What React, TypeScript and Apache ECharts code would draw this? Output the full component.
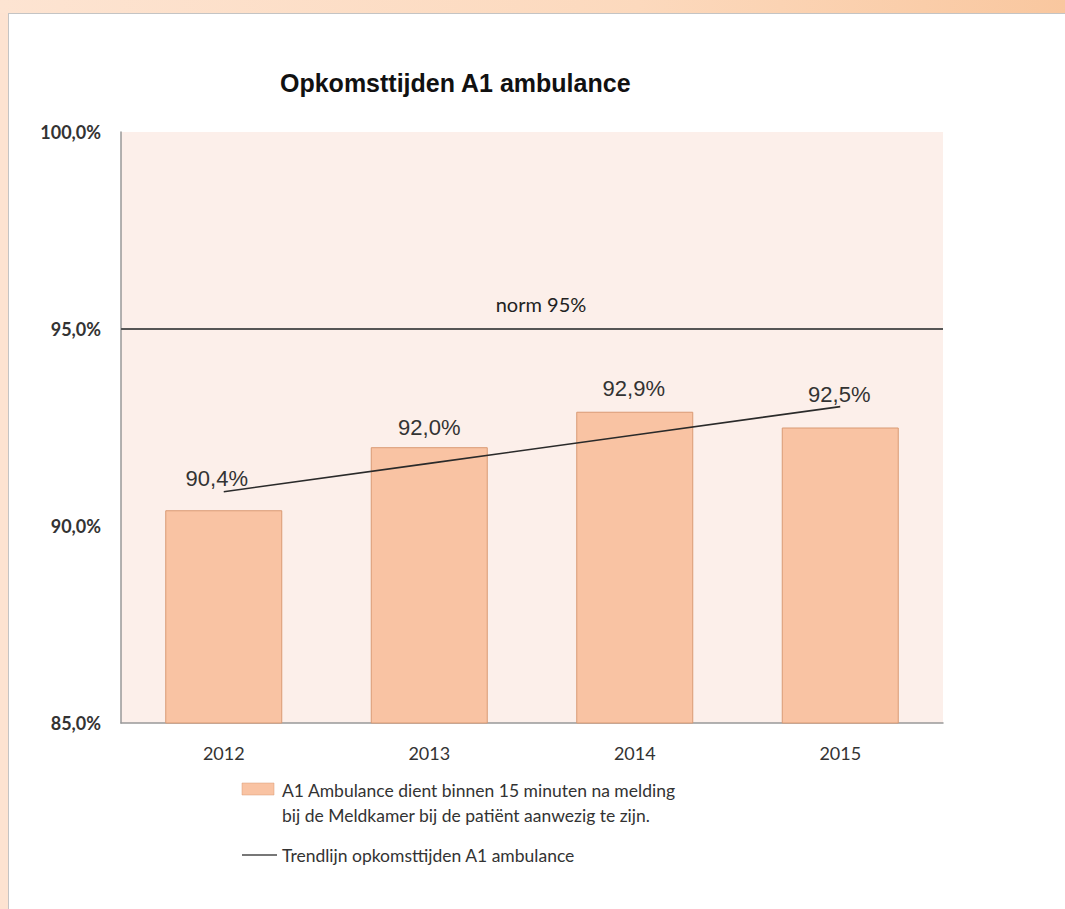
import React, { useEffect, useRef } from "react";
import * as echarts from "echarts";

const categories = ["2012", "2013", "2014", "2015"];
const values = [90.4, 92.0, 92.9, 92.5];
const trendValues = [90.87, 91.59, 92.31, 93.03];
const normValue = 95;
const yTicks = [85, 90, 95, 100];
const labelDistances = [21, 9, 12, 22];
const labelOffsetsX = [-7, 0, -1, -1];

const barName = "A1 Ambulance dient binnen 15 minuten na melding bij de Meldkamer bij de patiënt aanwezig te zijn.";
const barLegendLines = ["A1 Ambulance dient binnen 15 minuten na melding", "bij de Meldkamer bij de patiënt aanwezig te zijn."];
const trendName = "Trendlijn opkomsttijden A1 ambulance";
const titleText = "Opkomsttijden A1 ambulance";
const normLabel = "norm 95%";

const BAR_COLOR = "#f9c3a3";
const BAR_BORDER = "#d99a74";
const TREND_COLOR = "#2a2a2a";

const fmtPct = (v: number) => v.toFixed(1).replace(".", ",") + "%";

export default function App() {
  const ref = useRef<HTMLDivElement>(null);
  useEffect(() => {
    if (!ref.current) return;
    const chart = echarts.init(ref.current, undefined, { renderer: "svg" });
    chart.setOption({
      animation: false,
      backgroundColor: "transparent",
      title: {
        text: titleText,
        left: 280,
        top: 70,
        padding: 0,
        textStyle: { fontFamily: "Liberation Sans", fontSize: 25, fontWeight: "bold", color: "#111" },
      },
      grid: {
        left: 121,
        right: 122,
        top: 132,
        bottom: 186,
        show: true,
        backgroundColor: "#fcefea",
        borderWidth: 0,
      },
      xAxis: {
        type: "category",
        data: categories,
        axisLine: { show: true, lineStyle: { color: "#999", width: 1.5 } },
        axisTick: { show: false },
        axisLabel: { margin: 21, fontFamily: "Lato", fontSize: 18, color: "#333" },
      },
      yAxis: {
        type: "value",
        min: yTicks[0],
        max: yTicks[yTicks.length - 1],
        interval: 5,
        axisLine: { show: true, lineStyle: { color: "#999", width: 1.5 } },
        axisTick: { show: false },
        splitLine: { show: false },
        axisLabel: {
          margin: 20,
          fontFamily: "Lato",
          fontWeight: "bold",
          fontSize: 18,
          color: "#333",
          formatter: (v: number) => fmtPct(v),
        },
      },
      series: [
        {
          name: barName,
          type: "bar",
          barWidth: 117,
          itemStyle: { color: BAR_COLOR, borderColor: BAR_BORDER, borderWidth: 1 },
          data: values.map((v, i) => ({
            value: v,
            label: { distance: labelDistances[i], offset: [labelOffsetsX[i], 0] },
          })),
          label: {
            show: true,
            position: "top",
            fontFamily: "Liberation Sans",
            fontSize: 22,
            color: "#333",
            formatter: (p: any) => fmtPct(p.value),
          },
          markLine: {
            silent: true,
            symbol: "none",
            lineStyle: { color: "#555", width: 2, type: "solid" },
            label: {
              show: true,
              position: "insideMiddleTop",
              distance: 15,
              padding: [0, 0, 0, 18],
              formatter: normLabel,
              fontFamily: "Lato",
              fontSize: 20,
              color: "#222",
            },
            data: [{ yAxis: normValue }],
          },
        },
        {
          name: trendName,
          type: "line",
          data: trendValues,
          symbol: "none",
          lineStyle: { color: TREND_COLOR, width: 1.6 },
          itemStyle: { color: TREND_COLOR },
          z: 5,
        },
      ],
      graphic: [
        {
          type: "rect",
          shape: { x: 242, y: 783, width: 32, height: 12 },
          style: { fill: BAR_COLOR, stroke: BAR_BORDER, lineWidth: 0.5 },
        },
        {
          type: "text",
          x: 282,
          y: 790,
          style: {
            text: barLegendLines[0],
            fontFamily: "Lato",
            fontSize: 17.5,
            fill: "#333",
            verticalAlign: "middle",
          },
        },
        {
          type: "text",
          x: 282,
          y: 815,
          style: {
            text: barLegendLines[1],
            fontFamily: "Lato",
            fontSize: 17.5,
            fill: "#333",
            verticalAlign: "middle",
          },
        },
        {
          type: "line",
          shape: { x1: 242, y1: 855, x2: 277, y2: 855 },
          style: { stroke: "#777", lineWidth: 2 },
        },
        {
          type: "text",
          x: 282,
          y: 855,
          style: {
            text: trendName,
            fontFamily: "Lato",
            fontSize: 17.5,
            fill: "#333",
            verticalAlign: "middle",
          },
        },
      ],
    });
    return () => chart.dispose();
  }, []);

  return (
    <div style={{ position: "fixed", left: 0, top: 0, width: 1065, height: 909, overflow: "hidden" }}>
      <div
        style={{
          position: "absolute",
          left: 0,
          top: 0,
          width: 1065,
          height: 909,
          background: "linear-gradient(90deg, #fde4d2 0%, #fcd9bd 60%, #f9c79f 100%)",
        }}
      />
      <div
        style={{
          position: "absolute",
          left: 0,
          top: 13,
          width: 8,
          height: 896,
          background: "#fde3d1",
        }}
      />
      <div
        style={{
          position: "absolute",
          left: 8,
          top: 13,
          width: 1057,
          height: 896,
          background: "#ffffff",
          borderLeft: "1px solid #c4c4c4",
          borderTop: "1px solid #c4c4c4",
          boxSizing: "border-box",
        }}
      />
      <div ref={ref} style={{ position: "absolute", left: 0, top: 0, width: 1065, height: 909 }} />
    </div>
  );
}
